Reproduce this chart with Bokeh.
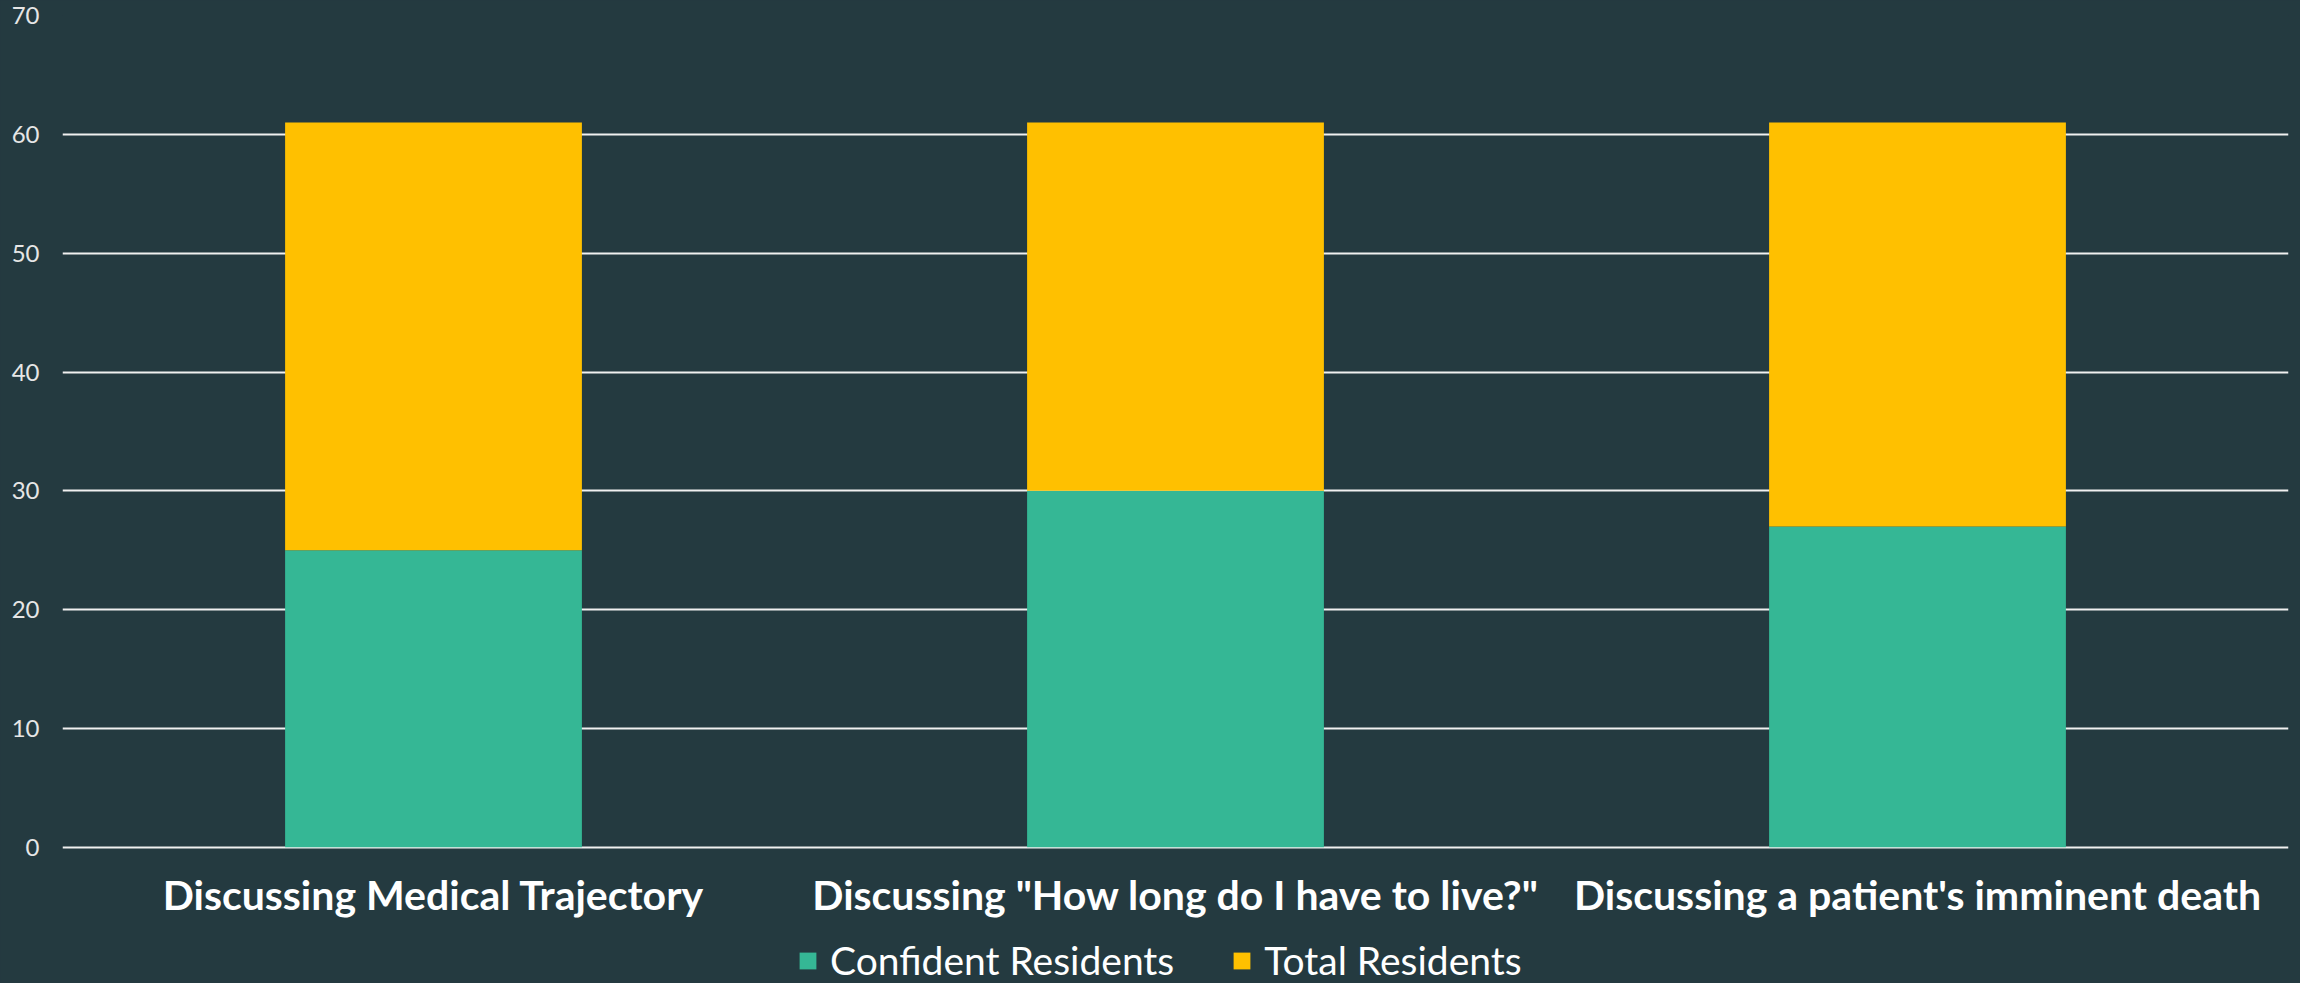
from bokeh.plotting import figure
from bokeh.models import FactorRange, Range1d, FixedTicker, Legend, LegendItem, ColumnDataSource
from bokeh.embed import file_html
from bokeh.resources import INLINE

categories = ["Discussing Medical Trajectory",
              'Discussing "How long do I have to live?"',
              "Discussing a patient's imminent death"]
confident_residents = [25, 30, 27]
total_residents = [61, 61, 61]
y_ticks = [0, 10, 20, 30, 40, 50, 60, 70]

BG = "#243a40"
GREEN = "#35b795"
YELLOW = "#ffc000"

# layout: value axis 0..70 spans 831 px; 136 px of room below zero for labels/legend
PX_PER_UNIT = 831 / 70
Y_START = -136 / PX_PER_UNIT

src = ColumnDataSource(dict(cat=categories, conf=confident_residents,
                            total=total_residents, zero=[0] * len(categories)))

p = figure(width=2300, height=983, output_backend="svg", toolbar_location=None,
           x_range=FactorRange(factors=categories, range_padding=0),
           y_range=Range1d(Y_START, 70),
           min_border_left=62, min_border_right=12, min_border_top=15,
           min_border_bottom=0)
p.styles = {"background-color": BG}
p.background_fill_color = BG
p.border_fill_color = BG
p.outline_line_color = None

r1 = p.vbar(x="cat", bottom="zero", top="conf", width=0.4, source=src,
            fill_color=GREEN, line_color=None)
r2 = p.vbar(x="cat", bottom="conf", top="total", width=0.4, source=src,
            fill_color=YELLOW, line_color=None)

p.xgrid.grid_line_color = None
p.ygrid.grid_line_color = "#f0f0f0"
p.ygrid.grid_line_width = 2
p.ygrid.ticker = FixedTicker(ticks=y_ticks)
p.ygrid.level = "underlay"

p.yaxis.ticker = FixedTicker(ticks=y_ticks)
p.yaxis.axis_line_color = None
p.yaxis.major_tick_line_color = None
p.yaxis.major_tick_out = 0
p.yaxis.major_tick_in = 0
p.yaxis.minor_tick_line_color = None
p.yaxis.major_label_text_color = "#e6e6e6"
p.yaxis.major_label_text_font = "Lato"
p.yaxis.major_label_text_font_size = "24px"
p.yaxis.major_label_standoff = 23

p.xaxis.fixed_location = 0
p.xaxis.axis_line_color = None
p.xaxis.major_tick_line_color = None
p.xaxis.major_tick_out = 0
p.xaxis.major_tick_in = 0
p.xaxis.major_label_text_color = "#ffffff"
p.xaxis.major_label_text_font = "Lato"
p.xaxis.major_label_text_font_style = "bold"
p.xaxis.major_label_text_font_size = "41px"
p.xaxis.major_label_standoff = 23

legend = Legend(items=[LegendItem(label="Confident Residents", renderers=[r1]),
                       LegendItem(label="Total Residents", renderers=[r2])],
                orientation="horizontal", location=(735, 0),
                padding=0, margin=0, spacing=57,
                glyph_width=21, glyph_height=21, label_standoff=12,
                label_text_font="Lato", label_text_font_size="39px",
                label_text_color="#ffffff",
                border_line_color=None, background_fill_alpha=0)
p.add_layout(legend, "center")

open("out.html", "w").write(file_html(p, INLINE))
